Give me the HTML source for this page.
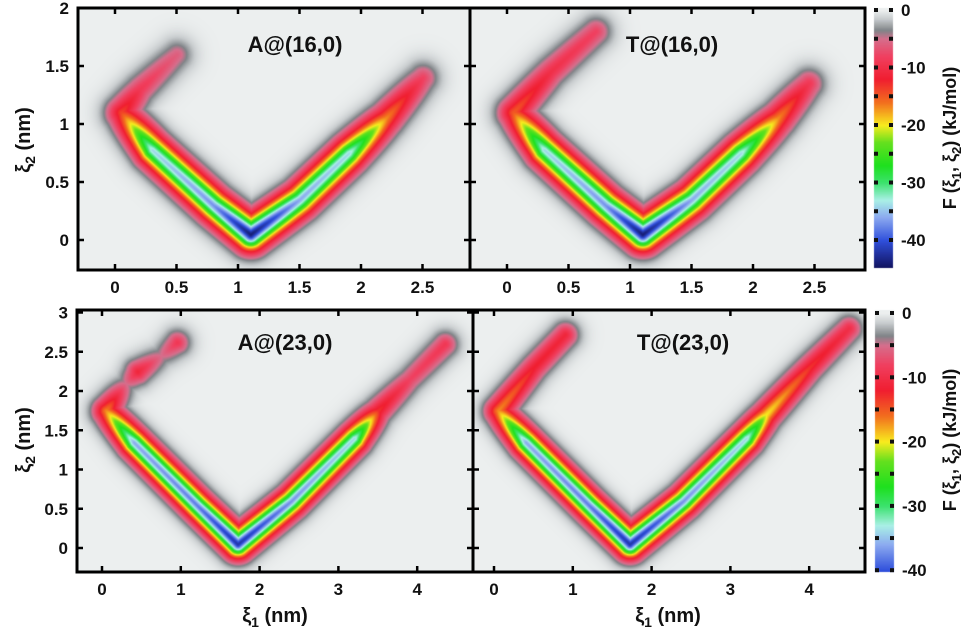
<!DOCTYPE html>
<html><head><meta charset="utf-8"><style>
body{margin:0;background:#fff;width:977px;height:636px;overflow:hidden;position:relative;font-family:"Liberation Sans",sans-serif}
canvas{position:absolute;left:0;top:0}
svg{position:absolute;left:0;top:0}
text{font-family:"Liberation Sans",sans-serif;font-weight:bold;fill:#111}
</style></head><body>
<canvas id="cv" width="977" height="636"></canvas>
<svg id="sv" width="977" height="636"></svg>
<script>
// ---- data: minimum free-energy paths (xi1, xi2, depth kJ/mol) ----
const a16X=[0.5,0.2,0.05,0.3,0.8,1.1,1.5,1.9,2.2,2.5];
const a16Y=[1.6,1.3,1.1,0.78,0.3,0.05,0.35,0.75,1.05,1.4];
const a16F=[-6,-9,-14,-34,-37,-44,-36,-34,-17,-8];
const t16X=[0.72,0.35,0.05,0.3,0.8,1.1,1.5,1.9,2.2,2.45];
const t16Y=[1.8,1.45,1.1,0.78,0.3,0.05,0.35,0.75,1.05,1.35];
const t16F=[-8,-10,-15,-34,-37,-44,-36,-34,-17,-9];
const a23X=[0.95,0.75,0.45,0.3,0.05,0.4,1.2,1.72,2.4,3.2,3.5,3.9,4.35];
const a23Y=[2.62,2.45,2.25,2.1,1.75,1.35,0.55,0.05,0.6,1.4,1.75,2.15,2.6];
const a23F=[-9,-5,-11,-5,-17,-36,-38,-42,-37,-34,-13,-8,-9];
const t23X=[0.9,0.5,0.05,0.4,1.2,1.72,2.4,3.2,3.45,4.0,4.5];
const t23Y=[2.72,2.3,1.75,1.35,0.55,0.05,0.6,1.4,1.7,2.3,2.8];
const t23F=[-11,-12,-17,-36,-38,-42,-37,-34,-20,-13,-10];
const xTicksTop=[0,0.5,1,1.5,2,2.5];
const yTicksTop=[0,0.5,1,1.5,2];
const xTicksBot=[0,1,2,3,4];
const yTicksBot=[0,0.5,1,1.5,2,2.5,3];
const cbTicksTop=[0,-10,-20,-30,-40];
const cbTicksBot=[0,-10,-20,-30,-40];

const panels=[
 {name:'a16',X:a16X,Y:a16Y,F:a16F,x0:78,x1:470,y0:8,y1:270,ox:115,sx:123,oy:240,sy:116,w:10,title:'A@(16,0)',tx:295,ty:52,xt:xTicksTop,yt:yTicksTop,ylab:true},
 {name:'t16',X:t16X,Y:t16Y,F:t16F,x0:470,x1:865,y0:8,y1:270,ox:507,sx:123,oy:240,sy:116,w:10,title:'T@(16,0)',tx:672,ty:52,xt:xTicksTop,yt:yTicksTop,ylab:false},
 {name:'a23',X:a23X,Y:a23Y,F:a23F,x0:77,x1:473,y0:310,y1:572,ox:102,sx:78.8,oy:548,sy:78.5,w:8.5,title:'A@(23,0)',tx:285,ty:350,xt:xTicksBot,yt:yTicksBot,ylab:true},
 {name:'t23',X:t23X,Y:t23Y,F:t23F,x0:473,x1:865,y0:310,y1:572,ox:494,sx:78.8,oy:548,sy:78.5,w:8.5,title:'T@(23,0)',tx:683,ty:350,xt:xTicksBot,yt:yTicksBot,ylab:false}
];
const stopV=[0,-1.5,-3.5,-5,-8,-12,-16,-20,-23,-27,-30,-33,-36,-40,-45];
const stopC=[[236,239,239],[200,204,206],[128,132,136],[214,110,140],[240,64,96],[240,30,48],[242,110,30],[248,236,30],[100,224,30],[30,224,30],[60,226,110],[170,240,230],[140,170,240],[48,80,220],[16,16,90]];
function cmap(v){
 if(v>=0)return stopC[0];
 for(let i=1;i<stopV.length;i++){ if(v>=stopV[i]){const t=(stopV[i-1]-v)/(stopV[i-1]-stopV[i]);const a=stopC[i-1],b=stopC[i];return [a[0]+(b[0]-a[0])*t,a[1]+(b[1]-a[1])*t,a[2]+(b[2]-a[2])*t];}}
 return stopC[stopC.length-1];
}
const cv=document.getElementById('cv');const ctx=cv.getContext('2d');
const img=ctx.createImageData(977,636);const D=img.data;
for(let i=0;i<D.length;i+=4){D[i]=255;D[i+1]=255;D[i+2]=255;D[i+3]=255;}
panels.forEach(p=>{
 const px=p.X.map(v=>p.ox+p.sx*v), py=p.Y.map(v=>p.oy-p.sy*v);
 for(let y=p.y0;y<p.y1;y++)for(let x=p.x0;x<p.x1;x++){
  let f=0;
  for(let k=0;k<px.length-1;k++){
   const ax=px[k],ay=py[k],bx=px[k+1],by=py[k+1];
   const dx=bx-ax,dy=by-ay;let t=((x-ax)*dx+(y-ay)*dy)/(dx*dx+dy*dy);t=Math.max(0,Math.min(1,t));
   const ex=x-ax-t*dx,ey=y-ay-t*dy;const d=Math.sqrt(ex*ex+ey*ey)/p.w;
   const fv=(p.F[k]+(p.F[k+1]-p.F[k])*t)*Math.exp(-0.55*Math.pow(d,1.6));
   if(fv<f)f=fv;
  }
  const c=cmap(f);const i=(y*977+x)*4;D[i]=c[0];D[i+1]=c[1];D[i+2]=c[2];
 }
});
// colorbars
const cbs=[{x0:874,x1:893,y0:8,y1:268,top:10,scale:5.75,ticks:cbTicksTop},{x0:875,x1:894,y0:310,y1:572,top:313,scale:6.43,ticks:cbTicksBot}];
cbs.forEach(b=>{for(let y=b.y0;y<b.y1;y++){const c=cmap(-(y-b.top)/b.scale);for(let x=b.x0;x<b.x1;x++){const i=(y*977+x)*4;D[i]=c[0];D[i+1]=c[1];D[i+2]=c[2];}}});
ctx.putImageData(img,0,0);

const sv=document.getElementById('sv');const NS='http://www.w3.org/2000/svg';
function mk(tag,at,txt){const e=document.createElementNS(NS,tag);for(const k in at)e.setAttribute(k,at[k]);if(txt!==undefined)e.textContent=txt;sv.appendChild(e);return e;}
panels.forEach(p=>{
 p.xt.forEach(v=>{const x=p.ox+p.sx*v;
  let t=mk('line',{x1:x,x2:x,y1:p.y1,y2:p.y1-6,stroke:'#000','stroke-width':2.5});
  
  
  t=mk('line',{x1:x,x2:x,y1:p.y0,y2:p.y0+6,stroke:'#000','stroke-width':2.5});
  
  
  const l=mk('text',{x:x,y:p.y1+23,'text-anchor':'middle','font-size':17},String(v));
  
  
 });
 p.yt.forEach(v=>{const y=p.oy-p.sy*v;
  let t=mk('line',{x1:p.x0,x2:p.x0+6,y1:y,y2:y,stroke:'#000','stroke-width':2.5});
  
  
  t=mk('line',{x1:p.x1,x2:p.x1-6,y1:y,y2:y,stroke:'#000','stroke-width':2.5});
  
  
  if(p.ylab){const l=mk('text',{x:p.x0-9,y:y+6,'text-anchor':'end','font-size':17},String(v));
   
   }
 });
 const r=mk('rect',{x:p.x0,y:p.y0,width:p.x1-p.x0,height:p.y1-p.y0,fill:'none',stroke:'#000','stroke-width':3});
 
 
 const tt=mk('text',{x:p.tx,y:p.ty,'text-anchor':'middle','font-size':22},p.title);
 
 
});
cbs.forEach(b=>{
 for(let v=0;v>=-45;v-=5){const y=b.top+(-v)*b.scale;if(y>b.y1)break;
  [b.x0+2,b.x1-2].forEach(x=>{const d=mk('rect',{x:x-2,y:y-2,width:4,height:4,fill:'#111'});
   
   });}
 b.ticks.forEach(v=>{const y=b.top+(-v)*b.scale;
  const l=mk('text',{x:b.x1+8,y:y+6,'font-size':17},String(v));
  
  });
});
function vtitle(x,y,name){const g=mk('text',{x:0,y:0,transform:`translate(${x},${y}) rotate(-90)`,'text-anchor':'middle','font-size':20});
 
 
 g.innerHTML='ξ<tspan font-size="14" dy="5">2</tspan><tspan dy="-5"> (nm)</tspan>';}
vtitle(30,140,'y-axis-title-top');vtitle(30,440,'y-axis-title-bottom');
function ctitle(x,y,name){const g=mk('text',{x:0,y:0,transform:`translate(${x},${y}) rotate(-90)`,'text-anchor':'middle','font-size':18});
 
 
 g.innerHTML='F (ξ<tspan font-size="13" dy="5">1</tspan><tspan dy="-5">, ξ</tspan><tspan font-size="13" dy="5">2</tspan><tspan dy="-5">) (kJ/mol)</tspan>';}
ctitle(956,138,'colorbar-title-top');ctitle(956,440,'colorbar-title-bottom');
function xtitle(x,name){const g=mk('text',{x:x,y:622,'text-anchor':'middle','font-size':20});
 
 
 g.innerHTML='ξ<tspan font-size="14" dy="5">1</tspan><tspan dy="-5"> (nm)</tspan>';}
xtitle(275,'x-axis-title-left');xtitle(668,'x-axis-title-right');
</script>
</body></html>
